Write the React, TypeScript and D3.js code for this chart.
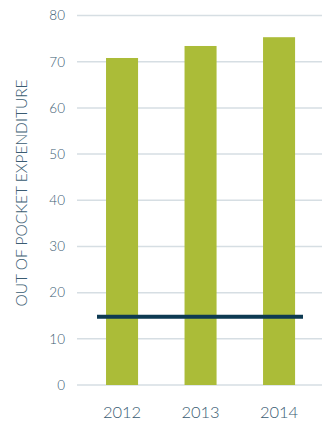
import React from "react";
import * as d3 from "d3";

const years = ["2012", "2013", "2014"];
const values = [70.8, 73.4, 75.3];
const benchmark = 14.8;
const yTicks = [0, 10, 20, 30, 40, 50, 60, 70, 80];

export default function App() {
  const W = 327, H = 428;
  const y = d3.scaleLinear().domain([0, 80]).range([385, 15.5]);
  const x = d3.scaleBand<string>().domain(years).range([86.4, 314.7]).paddingInner(0.592).paddingOuter(0.25);
  const textColor = "#3a5c72";
  return (
    <svg width={W} height={H} style={{ position: "absolute", left: 0, top: 0 }} fontFamily="Lato, 'Open Sans', sans-serif" fontWeight={300}>
      {yTicks.map(t => (
        <g key={t}>
          <line x1={77} x2={322} y1={y(t)} y2={y(t)} stroke="#d6dee3" strokeWidth={1.5} />
          <text x={65} y={y(t)} dy="0.36em" textAnchor="end" fontSize={13.5} fill={textColor}>{t}</text>
        </g>
      ))}
      {years.map((yr, i) => (
        <rect key={yr} x={x(yr)} y={y(values[i])} width={x.bandwidth()} height={y(0) - y(values[i])} fill="#abbc38" />
      ))}
      <line x1={97} x2={303} y1={y(benchmark)} y2={y(benchmark)} stroke="#0d3a52" strokeWidth={4} />
      {years.map(yr => (
        <text key={yr} x={(x(yr) as number) + x.bandwidth() / 2} y={418} textAnchor="middle" fontSize={16.5} fill={textColor}>{yr}</text>
      ))}
      <text transform="translate(27,193) rotate(-90)" textAnchor="middle" fontSize={15.5} fill={textColor}>OUT OF POCKET EXPENDITURE</text>
    </svg>
  );
}
